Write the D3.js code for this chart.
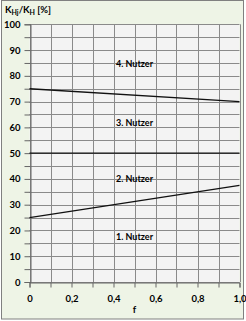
<!DOCTYPE html>
<html><head><meta charset="utf-8">
<script src="https://cdn.jsdelivr.net/npm/d3@7/dist/d3.min.js"></script>
<style>body{margin:0;background:#fff}svg{display:block}</style>
</head><body>
<script>
const xTicks = [0,0.1,0.2,0.3,0.4,0.5,0.6,0.7,0.8,0.9,1.0];
const xTickLabels = ["0","","0,2","","0,4","","0,6","","0,8","","1,0"];
const yTicks = [0,5,10,15,20,25,30,35,40,45,50,55,60,65,70,75,80,85,90,95,100];
const yTickLabels = ["0","","10","","20","","30","","40","","50","","60","","70","","80","","90","","100"];
const lineF = [0, 1];
const line4 = [75, 70];
const line3 = [50, 50];
const line2 = [25, 37.5];
const labelNames = ["4. Nutzer","3. Nutzer","2. Nutzer","1. Nutzer"];
const labelF = [0.5,0.5,0.5,0.5];
const labelV = [84.8,62,40,17.6];

const W=246,H=321;
const svg=d3.select("body").append("svg").attr("width",W).attr("height",H);
const font="Lato, 'Open Sans', sans-serif";
const ink="#000";
svg.append("rect").attr("x",1.5).attr("y",0.5).attr("width",242).attr("height",318.5)
  .attr("fill","#eef4e6").attr("stroke","#808080").attr("stroke-width",1);

const x=d3.scaleLinear().domain([0,1]).range([29.5,239.5]);
const y=d3.scaleLinear().domain([0,100]).range([282,24.3]);

svg.append("rect").attr("x",x(0)).attr("y",y(100)).attr("width",x(1)-x(0)).attr("height",y(0)-y(100))
  .attr("fill","#f3f3f3");

// grid
svg.append("g").selectAll("line").data(yTicks).join("line")
  .attr("x1",x(0)).attr("x2",x(1)).attr("y1",d=>Math.round(y(d))+0.5).attr("y2",d=>Math.round(y(d))+0.5)
  .attr("stroke","#8a8a8a").attr("stroke-width",1);
svg.append("g").selectAll("line").data(xTicks).join("line")
  .attr("y1",y(0)).attr("y2",y(100)).attr("x1",d=>Math.round(x(d))+0.5).attr("x2",d=>Math.round(x(d))+0.5)
  .attr("stroke","#8a8a8a").attr("stroke-width",1);

// axes
const yAxis=d3.axisLeft(y).tickValues(yTicks).tickFormat((d,i)=>yTickLabels[i]).tickSize(6).tickPadding(4);
const gy=svg.append("g").attr("transform",`translate(${Math.round(x(0))+0.5},0)`).call(yAxis);
gy.select(".domain").attr("stroke","#666");
gy.selectAll(".tick line").attr("stroke","#666");
gy.selectAll("text").attr("font-family",font).attr("font-weight","bold").attr("font-size",9.5).attr("fill",ink);

const xAxis=d3.axisBottom(x).tickValues(xTicks).tickFormat((d,i)=>xTickLabels[i]).tickSize(5).tickPadding(8);
const gx=svg.append("g").attr("transform",`translate(0,${Math.round(y(0))+0.5})`).call(xAxis);
gx.select(".domain").attr("stroke","#666");
gx.selectAll(".tick line").attr("stroke","#666");
gx.selectAll("text").attr("font-family",font).attr("font-weight","bold").attr("font-size",9.5).attr("fill",ink);

// lines
const ln=d3.line().x(d=>x(d[0])).y(d=>y(d[1]));
[line4,line3,line2].forEach(s=>{
  svg.append("path").attr("d",ln(lineF.map((f,i)=>[f,s[i]]))).attr("fill","none")
    .attr("stroke","#111").attr("stroke-width",1.4);
});

// labels
svg.append("g").selectAll("text").data(labelNames).join("text")
  .attr("x",(d,i)=>x(labelF[i])).attr("y",(d,i)=>y(labelV[i])+3.3)
  .attr("text-anchor","middle").attr("font-family",font).attr("font-weight","bold")
  .attr("font-size",9).attr("fill",ink).text(d=>d);

// axis title
const t=svg.append("text").attr("x",5).attr("y",13).attr("font-family",font).attr("font-weight","bold")
  .attr("font-size",9.5).attr("fill",ink);
t.append("tspan").text("K");
t.append("tspan").attr("font-size",7).attr("dy",2).text("Hj");
t.append("tspan").attr("dy",-2).text("/K");
t.append("tspan").attr("font-size",7).attr("dy",2).text("H");
t.append("tspan").attr("dy",-2).text(" [%]");

svg.append("text").attr("x",x(0.5)).attr("y",313).attr("text-anchor","middle")
  .attr("font-family",font).attr("font-weight","bold").attr("font-size",9.5).attr("fill",ink).text("f");
</script>
</body></html>
